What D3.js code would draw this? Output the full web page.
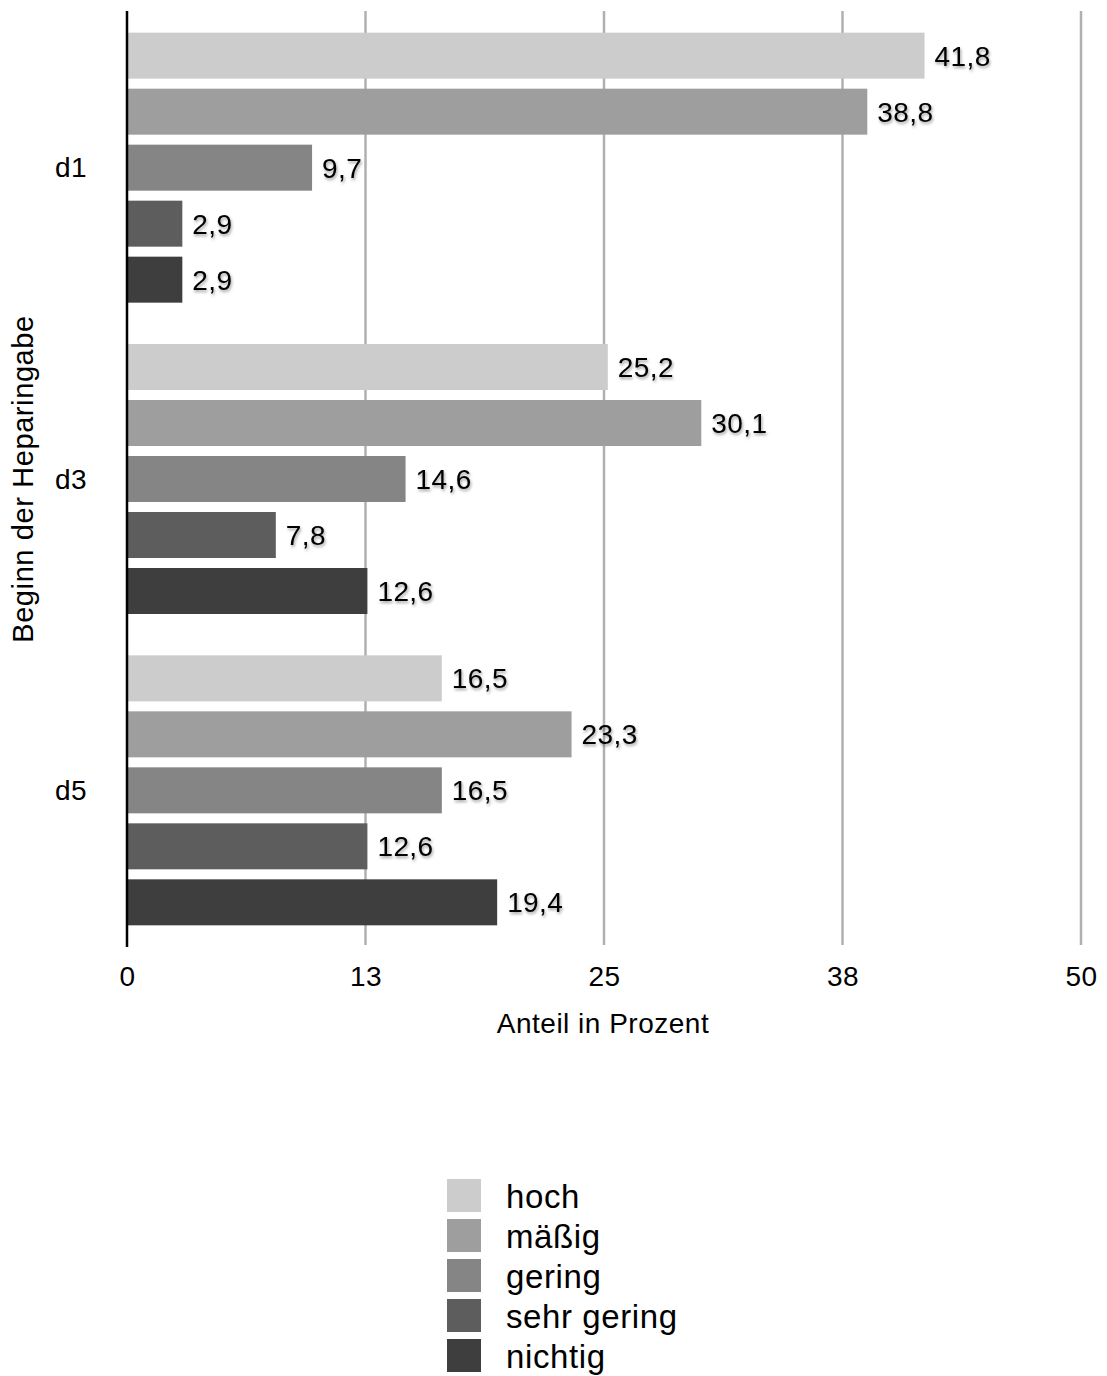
<!DOCTYPE html>
<html>
<head>
<meta charset="utf-8">
<script src="https://cdn.jsdelivr.net/npm/d3@7"></script>
<style>
  html, body { margin: 0; padding: 0; background: #fff; }
  svg { display: block; font-family: "Liberation Sans", Arial, Helvetica, sans-serif; }
</style>
</head>
<body>
<svg id="chart" width="1107" height="1376"></svg>
<script>
// Start of heparin administration (day) vs. share in percent per rating
const groups = ["d1", "d3", "d5"];
const series = ["hoch", "mäßig", "gering", "sehr gering", "nichtig"];
const seriesColors = ["#cbcccb", "#9d9e9d", "#848584", "#5c5d5c", "#3d3e3d"];
const valuesD1 = [41.8, 38.8, 9.7, 2.9, 2.9];
const valuesD3 = [25.2, 30.1, 14.6, 7.8, 12.6];
const valuesD5 = [16.5, 23.3, 16.5, 12.6, 19.4];
const tickValues = [0, 12.5, 25, 37.5, 50];
const tickLabels = ["0", "13", "25", "38", "50"];
const xTitle = "Anteil in Prozent";
const yTitle = "Beginn der Heparingabe";

const groupValues = [valuesD1, valuesD3, valuesD5];
const rows = [];
groups.forEach((g, gi) => series.forEach((s, si) => rows.push({ group: g, series: s, si, value: groupValues[gi][si] })));

const svg = d3.select("#chart");
const fmt = v => d3.format(".1f")(v).replace(".", ",");

// drop shadow for the value labels
const defs = svg.append("defs");
defs.append("filter").attr("id", "labelShadow")
  .attr("x", "-20%").attr("y", "-30%").attr("width", "150%").attr("height", "170%")
  .append("feDropShadow")
  .attr("dx", 1).attr("dy", 2).attr("stdDeviation", 1.6)
  .attr("flood-color", "#000").attr("flood-opacity", 0.38);

const x = d3.scaleLinear().domain([0, 50]).range([127, 1081]);
const plotTop = 11, plotBottom = 947;
const yGroup = d3.scaleBand().domain(groups).range([12, 946]);
const inner = d3.scaleBand().domain(series).range([0, 270]).paddingInner(10 / 56);
const groupOffset = (yGroup.bandwidth() - 270) / 2;
const color = d3.scaleOrdinal().domain(series).range(seriesColors);

// vertical grid lines
svg.append("g").selectAll("line")
  .data(tickValues.filter(t => t > 0))
  .join("line")
  .attr("x1", d => x(d)).attr("x2", d => x(d))
  .attr("y1", plotTop).attr("y2", plotBottom - 2)
  .attr("stroke", "#b0b0b0").attr("stroke-width", 2.5);

// bars
svg.append("g").selectAll("rect")
  .data(rows)
  .join("rect")
  .attr("x", x(0) + 1)
  .attr("y", d => yGroup(d.group) + groupOffset + inner(d.series))
  .attr("width", d => x(d.value) - x(0) - 1)
  .attr("height", inner.bandwidth())
  .attr("fill", d => color(d.series));

// value labels
svg.append("g").selectAll("text")
  .data(rows)
  .join("text")
  .attr("x", d => x(d.value) + 10)
  .attr("y", d => yGroup(d.group) + groupOffset + inner(d.series) + inner.bandwidth() / 2 + 10)
  .attr("font-size", 28)
  .attr("letter-spacing", 0.4)
  .attr("fill", "#000")
  .attr("filter", "url(#labelShadow)")
  .text(d => fmt(d.value));

// x axis tick labels
const xAxis = d3.axisBottom(x).tickValues(tickValues).tickFormat((d, i) => tickLabels[i]).tickSize(0).tickPadding(0);
const xg = svg.append("g").attr("transform", `translate(0,${plotBottom})`).call(xAxis);
xg.select(".domain").remove();
xg.selectAll("text")
  .attr("y", 39).attr("dy", null)
  .attr("font-size", 28).attr("letter-spacing", 0.4)
  .attr("font-family", null).attr("fill", "#000");

// category labels
const yAxis = d3.axisLeft(yGroup).tickSize(0).tickPadding(0);
const yg = svg.append("g").attr("transform", "translate(0,0)").call(yAxis);
yg.select(".domain").remove();
yg.selectAll("text")
  .attr("x", 55).attr("dy", "0.35em")
  .attr("text-anchor", "start")
  .attr("font-size", 28).attr("letter-spacing", 0.4)
  .attr("font-family", null).attr("fill", "#000");

// value axis baseline
svg.append("line")
  .attr("x1", x(0)).attr("x2", x(0))
  .attr("y1", plotTop).attr("y2", plotBottom)
  .attr("stroke", "#000").attr("stroke-width", 2.5);

// axis titles
svg.append("text")
  .attr("x", 603).attr("y", 1033)
  .attr("text-anchor", "middle")
  .attr("font-size", 28).attr("letter-spacing", 0.5)
  .text(xTitle);

svg.append("text")
  .attr("transform", `translate(33,${(plotTop + plotBottom) / 2}) rotate(-90)`)
  .attr("text-anchor", "middle")
  .attr("font-size", 29).attr("letter-spacing", 0.6)
  .text(yTitle);

// legend
const legend = svg.append("g").attr("transform", "translate(447,1179)");
const item = legend.selectAll("g")
  .data(series)
  .join("g")
  .attr("transform", (d, i) => `translate(0,${i * 40})`);
item.append("rect")
  .attr("width", 34).attr("height", 33)
  .attr("fill", d => color(d));
item.append("text")
  .attr("x", 59).attr("y", 29)
  .attr("font-size", 33).attr("letter-spacing", 0.6)
  .text(d => d);
</script>
</body>
</html>
